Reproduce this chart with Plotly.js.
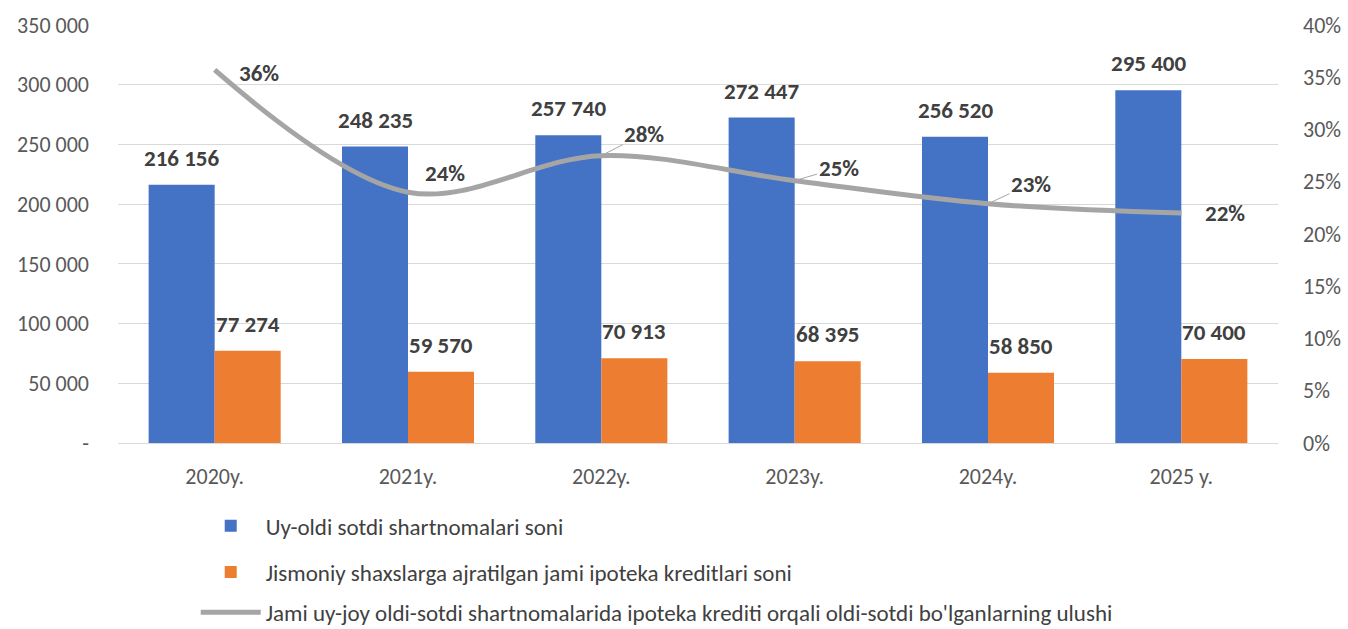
<!DOCTYPE html>
<html><head><meta charset="utf-8">
<script src="https://cdn.plot.ly/plotly-3.0.1.min.js"></script>
<style>html,body{margin:0;padding:0;background:#fff}#chart{width:1348px;height:629px}</style>
</head><body><div id="chart"></div>
<script>
const categories = ['2020y.', '2021y.', '2022y.', '2023y.', '2024y.', '2025 y.'];
const contracts = [216156, 248235, 257740, 272447, 256520, 295400];
const mortgages = [77274, 59570, 70913, 68395, 58850, 70400];
const share = [0.357, 0.24, 0.275, 0.251, 0.229, 0.22];
const shareLabels = ['36%', '24%', '28%', '25%', '23%', '22%'];
const leftTickVals = [0, 50000, 100000, 150000, 200000, 250000, 300000, 350000];
const leftTickText = ['-', '50 000', '100 000', '150 000', '200 000', '250 000', '300 000', '350 000'];
const seriesNames = [
  'Uy-oldi sotdi shartnomalari soni',
  'Jismoniy shaxslarga ajratilgan jami ipoteka kreditlari soni',
  "Jami uy-joy oldi-sotdi shartnomalarida ipoteka krediti orqali oldi-sotdi bo'lganlarning ulushi"
];

// label placement (style, not data)
const shareOffsets = [[44, 3], [37, -19], [43, -22], [44, -13], [43, -20], [44, 0]];
const shareLeader = [false, false, true, true, true, false];

const FONT = 'Calibri, Carlito, Lato, sans-serif';
const fmt = v => String(v).replace(/\B(?=(\d{3})+(?!\d))/g, ' ');

const traces = [
  {type: 'bar', x: categories, y: contracts, name: seriesNames[0], marker: {color: '#4472C4'}, legend: 'legend'},
  {type: 'bar', x: categories, y: mortgages, name: seriesNames[1], marker: {color: '#ED7D31'}, legend: 'legend2'},
  {type: 'scatter', mode: 'lines', x: categories, y: share, yaxis: 'y2', name: seriesNames[2],
   line: {color: '#A5A5A5', width: 5, shape: 'spline', smoothing: 1}, legend: 'legend3'}
];

const labelFont = {family: FONT, size: 23, color: '#404040', weight: 'bold'};
const annotations = [];
categories.forEach((c, i) => {
  annotations.push({x: c, y: contracts[i], xref: 'x', yref: 'y', text: fmt(contracts[i]), showarrow: false,
    xshift: -33, yshift: 27, yanchor: 'middle', font: labelFont});
  annotations.push({x: c, y: mortgages[i], xref: 'x', yref: 'y', text: fmt(mortgages[i]), showarrow: false,
    xshift: 33, yshift: 27, yanchor: 'middle', font: labelFont});
  annotations.push({x: c, y: share[i], xref: 'x', yref: 'y2', text: shareLabels[i], showarrow: true,
    arrowhead: 0, arrowwidth: 1, arrowcolor: shareLeader[i] ? '#A5A5A5' : 'rgba(0,0,0,0)',
    ax: shareOffsets[i][0], ay: shareOffsets[i][1], standoff: 4, font: labelFont});
});

const tickFont = {family: FONT, size: 22, color: '#595959'};
const legendFont = {family: FONT, size: 23, color: '#404040'};
const legendBase = {x: 0.067, xanchor: 'left', yanchor: 'middle', font: legendFont,
  bgcolor: 'rgba(0,0,0,0)', itemwidth: 60};
const layout = {
  width: 1348, height: 629,
  margin: {l: 118, r: 70, t: 25, b: 186, autoexpand: false},
  paper_bgcolor: '#fff', plot_bgcolor: '#fff',
  font: {family: FONT, color: '#595959', size: 22},
  barmode: 'group', bargap: 0.317, bargroupgap: 0,
  hovermode: false,
  xaxis: {showline: true, linecolor: '#D9D9D9', linewidth: 1, ticks: '', showgrid: false,
    tickfont: tickFont, ticklabelstandoff: 14},
  yaxis: {range: [0, 350000], tickvals: leftTickVals, ticktext: leftTickText, showgrid: true,
    gridcolor: '#D9D9D9', gridwidth: 1, zeroline: false, ticks: '', ticklabelstandoff: 28,
    tickfont: tickFont},
  yaxis2: {range: [0, 0.4], dtick: 0.05, tickformat: '.0%', overlaying: 'y', side: 'right',
    showgrid: false, zeroline: false, ticks: '', ticklabelstandoff: 24, tickfont: tickFont},
  showlegend: true,
  legend: Object.assign({}, legendBase, {y: -0.198}),
  legend2: Object.assign({}, legendBase, {y: -0.309}),
  legend3: Object.assign({}, legendBase, {y: -0.405}),
  annotations: annotations
};

Plotly.newPlot('chart', traces, layout, {staticPlot: true, displayModeBar: false});
</script>
</body></html>
